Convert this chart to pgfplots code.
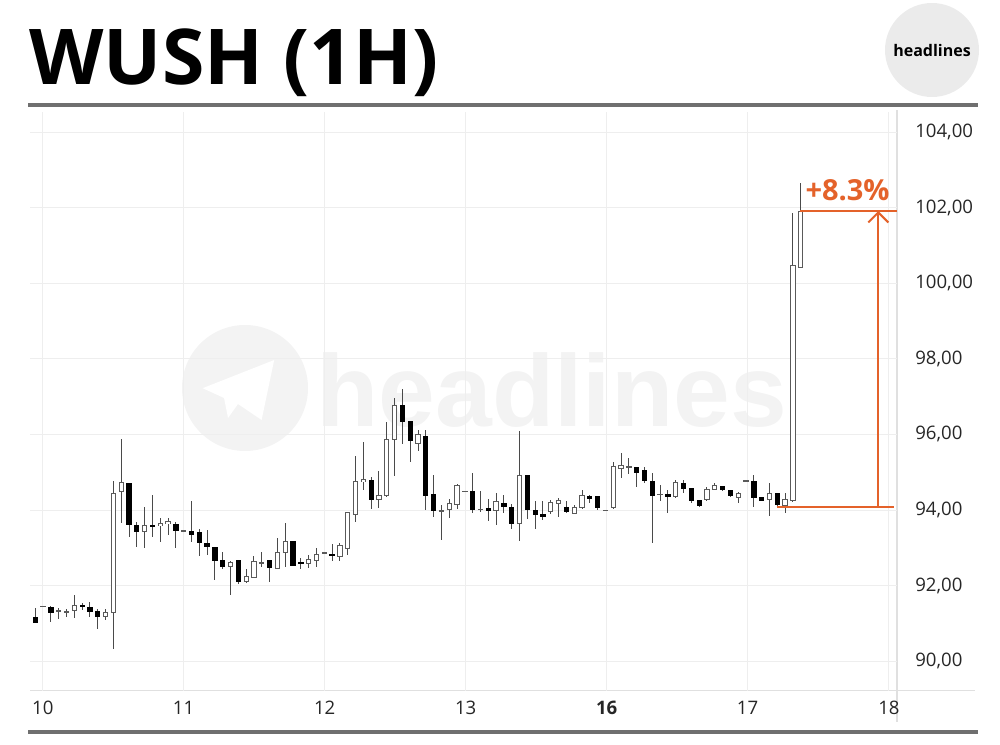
\documentclass[border=0pt]{standalone}
\usepackage{fontspec}
\setmainfont{Open Sans}
\newfontfamily\wmfont{Liberation Sans}
\usepackage{pgfplots}
\pgfplotsset{compat=1.18}
\usepackage{pgfplotstable}
\usetikzlibrary{arrows.meta}

\definecolor{accent}{HTML}{E4622A}
\definecolor{rulegray}{HTML}{6F6F6F}
\definecolor{gridgray}{HTML}{EEEEEE}
\definecolor{axisgray}{HTML}{E0E0E0}
\definecolor{wick}{HTML}{4A4A4A}
\definecolor{outline}{HTML}{5A5A5A}
\definecolor{badge}{HTML}{EBEBEB}
\definecolor{wm}{HTML}{F3F3F3}

% hourly candles, i = candle number (1 = first candle on the chart)
\pgfplotstableread{
i   o      h      l      c
2   91.46  91.47  91.45  91.46
4   91.33  91.42  91.13  91.33
5   91.31  91.39  91.17  91.31
6   91.35  91.75  91.15  91.48
10  91.17  91.39  91.08  91.28
11  91.29  94.77  90.33  94.44
12  94.49  95.88  93.66  94.73
15  93.44  94.07  93.00  93.58
17  93.58  93.78  93.16  93.65
18  93.65  93.80  93.34  93.69
20  93.45  93.46  93.44  93.45
26  92.50  92.65  91.75  92.60
28  92.12  92.45  92.06  92.23
29  92.21  92.78  92.19  92.63
30  92.61  92.89  92.50  92.61
32  92.45  93.25  92.45  92.87
33  92.87  93.65  92.50  93.16
36  92.59  92.81  92.48  92.70
37  92.67  93.00  92.50  92.83
38  92.87  92.88  92.86  92.87
40  92.78  93.12  92.65  93.05
41  92.98  93.94  92.81  93.94
42  93.89  95.43  93.69  94.75
43  94.75  95.79  94.53  94.81
45  94.28  95.04  94.06  94.39
46  94.39  96.34  94.34  95.87
47  95.86  96.96  94.90  96.77
50  95.77  96.12  95.55  96.01
53  93.98  94.13  93.22  93.98
54  94.02  94.28  93.78  94.18
55  94.15  94.69  94.04  94.66
56  94.50  94.51  94.49  94.50
58  94.02  94.50  93.96  94.02
60  93.98  94.46  93.60  94.22
63  93.65  96.08  93.19  94.91
67  93.96  94.27  93.89  94.21
68  94.16  94.31  93.82  94.25
70  93.91  94.13  93.89  94.07
71  94.07  94.53  94.02  94.39
74  94.00  94.01  93.99  94.00
75  94.07  95.28  94.02  95.15
76  95.11  95.50  94.84  95.19
77  95.15  95.37  94.95  95.15
81  94.42  94.66  94.25  94.42
83  94.35  94.80  94.33  94.73
87  94.27  94.62  94.25  94.55
88  94.55  94.71  94.53  94.64
91  94.34  94.49  94.18  94.44
92  94.77  94.78  94.76  94.77
95  94.28  94.71  93.84  94.44
97  94.13  94.46  93.93  94.28
98  94.25  101.87 94.22  100.47
99  100.41 102.66 100.41 101.91
}\bull

\pgfplotstableread{
i   o      h      l      c
1   91.17  91.42  91.01  91.01
3   91.44  91.45  91.04  91.29
7   91.48  91.55  91.35  91.44
8   91.42  91.57  91.18  91.30
9   91.33  91.39  90.86  91.19
13  94.71  94.71  93.29  93.60
14  93.60  93.69  93.03  93.43
16  93.60  94.40  93.29  93.56
19  93.63  93.69  93.00  93.44
21  93.43  94.25  93.16  93.35
22  93.40  93.49  92.79  93.13
23  93.13  93.47  92.81  93.03
24  93.01  93.01  92.14  92.65
25  92.67  92.88  92.43  92.50
27  92.66  92.66  92.03  92.10
31  92.67  92.67  92.10  92.48
34  93.16  93.16  92.54  92.54
35  92.63  92.72  92.43  92.59
39  92.83  93.10  92.66  92.78
44  94.80  94.88  94.02  94.28
48  96.77  97.20  95.75  96.34
49  96.34  96.34  95.28  95.83
51  95.96  96.12  94.00  94.37
52  94.42  94.93  93.82  93.97
57  94.49  94.99  93.93  94.00
59  94.04  94.28  93.72  93.98
61  94.19  94.40  93.91  94.09
62  94.07  94.16  93.51  93.65
64  94.91  94.91  93.75  94.00
65  94.00  94.24  93.49  93.89
66  93.88  94.23  93.73  93.82
69  94.07  94.25  93.91  93.96
72  94.37  94.40  94.18  94.31
73  94.35  94.35  94.00  94.07
78  95.12  95.12  94.60  94.99
79  95.04  95.15  94.71  94.78
80  94.75  94.97  93.12  94.38
82  94.42  94.53  93.93  94.35
84  94.71  94.80  94.46  94.57
85  94.57  94.57  94.18  94.25
86  94.27  94.27  94.09  94.11
89  94.62  94.64  94.51  94.53
90  94.51  94.53  94.35  94.37
93  94.77  94.93  94.09  94.34
94  94.34  94.34  94.25  94.25
96  94.44  94.46  94.09  94.13
}\bear

\begin{document}
\begin{tikzpicture}
\useasboundingbox (0,0) rectangle (500pt,372pt);

% watermark
\fill[wm] (122.5pt,178pt) circle (31.5pt);
\fill[white] (101.3pt,177.9pt) -- (137.1pt,192pt) -- (130.8pt,162pt)
  -- (119pt,170pt) -- (114pt,163pt) -- (112pt,173pt) -- cycle;
\node[anchor=base west, inner sep=0pt, text=wm,
  font=\wmfont\bfseries\fontsize{51}{51}\selectfont] at (158pt,158.5pt) {headlines};

% header
\node[anchor=base west, inner sep=0pt, font=\fontsize{38.5}{40}\selectfont\bfseries]
  at (14.5pt,329.5pt) {WUSH (1H)};
\fill[badge] (466pt,347pt) circle (23.5pt);
\node[anchor=base, inner sep=0pt, font=\fontsize{8}{9}\selectfont\bfseries]
  at (466pt,343.5pt) {headlines};
\draw[rulegray, line width=1.6pt] (14pt,319.5pt) -- (489pt,319.5pt);
\draw[rulegray, line width=1.6pt] (14pt,6pt) -- (489pt,6pt);

% frame lines
\draw[axisgray, line width=0.6pt] (15pt,26.65pt) -- (487.5pt,26.65pt);
\draw[axisgray, line width=0.6pt] (448.5pt,317pt) -- (448.5pt,11pt);

\begin{axis}[
  at={(15pt,26.65pt)}, anchor=south west,
  scale only axis, width=433.5pt, height=289.35pt,
  xmin=0.32, xmax=111.33, ymin=89.22, ymax=104.53,
  axis line style={draw=none},
  major tick length=0pt,
  xtick={1.96,19.99,38.05,56.1,74.16,92.2,110.3},
  xticklabels={10,11,12,13,\textbf{16},17,18},
  ytick={90,92,...,104},
  yticklabels={{90,00},{92,00},{94,00},{96,00},{98,00},{100,00},{102,00},{104,00}},
  yticklabel pos=right,
  grid=major,
  major grid style={draw=gridgray, line width=0.5pt},
  tick label style={font=\fontsize{9.3}{11}\selectfont, text=black!85},
  yticklabel style={anchor=west, xshift=5.6pt},
  xticklabel style={yshift=-1.5pt},
  /pgf/number format/assume math mode=true,
  candle/.style={draw=none, mark=none, forget plot,
    error bars/.cd, y dir=both, y explicit, error mark=none},
]

% wicks
\addplot[candle, error bar style={draw=wick, line width=0.5pt}]
  table[x=i, y expr={(\thisrow{h}+\thisrow{l})/2},
        y error expr={(\thisrow{h}-\thisrow{l})/2}] {\bull};
\addplot[candle, error bar style={draw=wick, line width=0.5pt}]
  table[x=i, y expr={(\thisrow{h}+\thisrow{l})/2},
        y error expr={(\thisrow{h}-\thisrow{l})/2}] {\bear};

% falling candles
\addplot[candle, error bar style={draw=black, line width=2.65pt}]
  table[x=i, y expr={(\thisrow{o}+\thisrow{c})/2},
        y error expr={abs(\thisrow{o}-\thisrow{c})/2+0.008}] {\bear};

% rising candles: outline, then white inside
\addplot[candle, error bar style={draw=outline, line width=2.65pt}]
  table[x=i, y expr={(\thisrow{o}+\thisrow{c})/2},
        y error expr={abs(\thisrow{o}-\thisrow{c})/2+0.0132}] {\bull};
\addplot[candle, error bar style={draw=white, line width=1.65pt}]
  table[x=i, y expr={(\thisrow{o}+\thisrow{c})/2},
        y error expr={max(abs(\thisrow{o}-\thisrow{c})/2-0.0132,0)}] {\bull};

% move annotation
\addplot[accent, line width=1pt] coordinates {(98.9,101.91) (111.33,101.91)};
\addplot[accent, line width=1pt] coordinates {(95.93,94.09) (110.9,94.09)};
\addplot[accent, line width=1pt, -{Straight Barb[length=5pt,width=10pt]}]
  coordinates {(108.94,94.09) (108.94,101.91)};
\node[anchor=base, inner sep=0pt, text=accent, font=\fontsize{14.5}{15}\selectfont\bfseries]
  at (axis cs:105.0,102.2) {+8.3\%};
\end{axis}
\end{tikzpicture}
\end{document}
